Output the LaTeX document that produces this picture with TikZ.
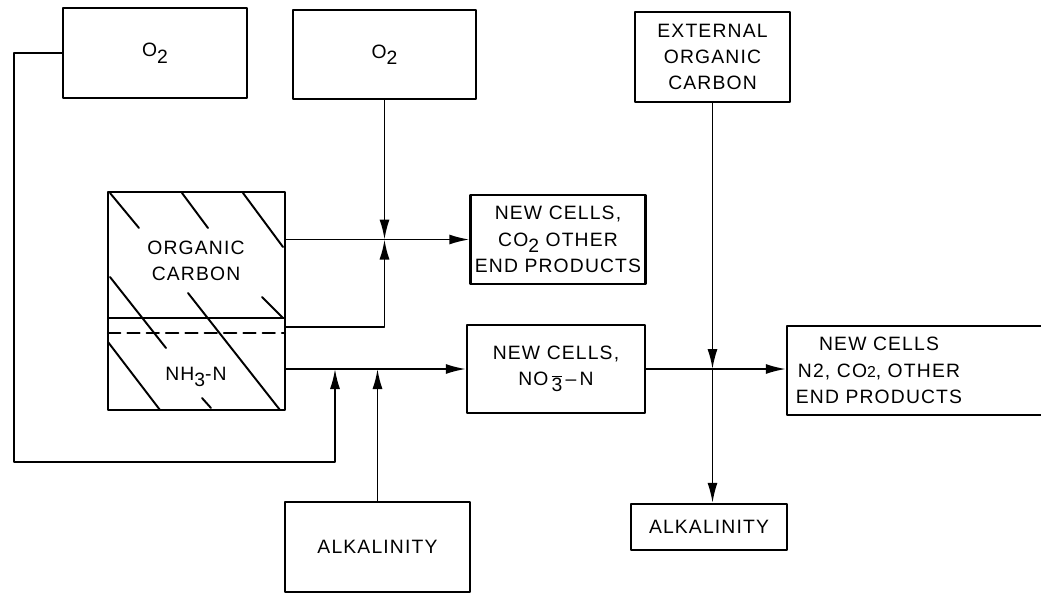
\documentclass[tikz,border=0pt]{standalone}
\usepackage{fontspec}
\setmainfont{Liberation Sans}[LetterSpace=6]
\usetikzlibrary{arrows.meta}
\begin{document}
\begin{tikzpicture}[font=\fontsize{11}{15}\selectfont, line join=round, line cap=round,
		box/.style={draw, line width=1.3pt, inner sep=0pt, align=center},
		arr/.style={line width=1pt, -{Latex[length=4mm,width=2mm]}}]
		\useasboundingbox (0,0) rectangle (20.82,11.88);
		% supply boxes
		\node[box, minimum width=3.68cm, minimum height=1.80cm] (o2a) at (3.10,10.82) {O\raisebox{-0.7ex}{2}};
		\node[box, minimum width=3.66cm, minimum height=1.78cm] (o2b) at (7.69,10.79) {O\raisebox{-0.6ex}{2}};
		\node[box, minimum width=3.10cm, minimum height=1.80cm] (ext) at (14.25,10.74) {EXTERNAL\\ORGANIC\\CARBON};
		\node[box, minimum width=3.70cm, minimum height=1.80cm] (alka) at (7.55,0.94) {ALKALINITY};
		\node[box, minimum width=3.12cm, minimum height=0.92cm] (alkb) at (14.18,1.34) {ALKALINITY};
		% substrate box
		\node[box, minimum width=3.54cm, minimum height=4.36cm] (sub) at (3.93,5.86) {};
		\draw[line width=1pt] (2.16,5.52) -- (5.70,5.52);
		\draw[line width=1.2pt, dash pattern=on 7pt off 4pt] (2.16,5.22) -- (5.70,5.22);
		\draw[line width=1.1pt] (2.20,8.02) -- (2.78,7.32) (3.64,8.02) -- (4.16,7.32)
			(4.86,8.02) -- (5.66,6.94) (2.20,6.34) -- (3.32,4.92)
			(3.76,6.02) -- (5.60,3.68) (5.24,5.94) -- (5.66,5.52)
			(2.16,5.04) -- (3.20,3.68) (4.04,3.92) -- (4.22,3.72);
		\node[align=center] (orgc) at (3.92,6.66) {ORGANIC\\CARBON};
		\node (nhn) at (3.92,4.34) {NH\raisebox{-0.6ex}{3}-N};
		% product boxes
		\node[box, minimum width=3.50cm, minimum height=1.78cm] (nca) at (11.16,7.09) {NEW CELLS,\\CO\raisebox{-0.6ex}{2} OTHER\\END PRODUCTS};
		\node[box, minimum width=3.56cm, minimum height=1.76cm] (ncb) at (11.12,4.50) {NEW CELLS,\\NO\,\raisebox{-0.6ex}{$\overline{\hbox{3}}$}\,--\,N};
		\node[box, minimum width=5.40cm, minimum height=1.78cm] (ncc) at (18.44,4.47) {};
		\node[align=center] (ncct) at (17.58,4.47) {NEW CELLS\\N2, CO{\small 2}, OTHER\\END PRODUCTS};
		\coordinate (fb) at (0.28,2.64);
		\coordinate (cout) at (5.70,5.34);
		\coordinate (jo) at (o2b.south |- nca.west);
		\coordinate (jn) at (6.70,4.50);
		\coordinate (je) at (ext.south |- ncb.east);
		% connectors
		\draw[arr] (o2a.west) -| (fb) -| (jn);
		\draw[arr] (alka.north) -- (alka.north |- ncb.west);
		\draw[arr] (o2b.south) -- (jo);
		\draw[arr] (cout) -| (jo);
		\draw[arr] (sub.east |- nca.west) -- (nca.west);
		\draw[arr] (sub.east |- ncb.west) -- (ncb.west);
		\draw[arr] (ncb.east) -- (ncb.east -| ncc.west);
		\draw[arr] (ext.south) -- (je);
		\draw[arr] (je) -- (ext.south |- alkb.north);
\end{tikzpicture}
\end{document}
